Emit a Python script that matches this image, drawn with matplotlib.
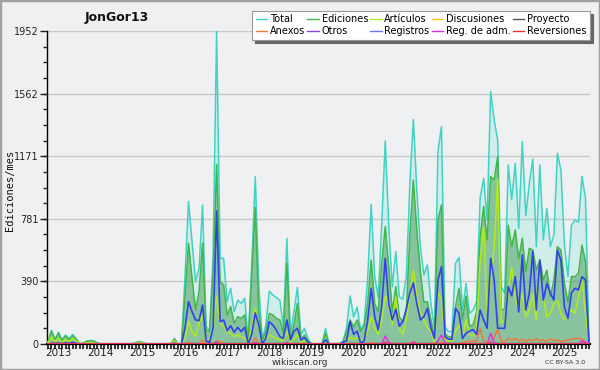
import numpy as np
import pandas as pd
import matplotlib
matplotlib.use("Agg")
import matplotlib.pyplot as plt
from matplotlib.lines import Line2D
from matplotlib.patches import Rectangle

# ---------------- data (monthly, starting Oct 2012) ----------------
start_month = "2012-10"

total = (
    [10, 85, 29]
    + [73, 25, 56, 29, 60, 35, 0, 5, 18, 22, 20, 8]
    + [0, 0, 0, 0, 0, 0, 0, 0, 0, 0, 10, 15]
    + [10, 0, 0, 0, 0, 0, 0, 0, 0, 35, 0, 0]
    + [420, 888, 638, 389, 472, 867, 108, 87, 550, 1952, 534, 534]
    + [264, 347, 202, 274, 254, 285, 15, 493, 1044, 368, 25, 118]
    + [330, 306, 290, 274, 108, 659, 56, 200, 353, 56, 98, 35]
    + [0, 0, 0, 0, 98, 0, 0, 0, 0, 20, 100, 300]
    + [170, 230, 87, 130, 410, 871, 420, 290, 750, 1266, 732, 358]
    + [576, 295, 280, 420, 1000, 1401, 950, 600, 430, 493, 254, 87]
    + [1200, 1355, 108, 77, 77, 503, 540, 212, 378, 191, 212, 264]
    + [908, 1033, 773, 1574, 1397, 1272, 358, 316, 1117, 900, 1127, 721]
    + [1262, 800, 1000, 1154, 607, 1117, 650, 846, 607, 680, 1189, 1085]
    + [620, 420, 740, 773, 760, 1044, 908, 0]
)

ediciones = (
    [10, 80, 25]
    + [68, 22, 50, 25, 50, 30, 0, 5, 16, 20, 18, 6]
    + [0, 0, 0, 0, 0, 0, 0, 0, 0, 0, 8, 13]
    + [8, 0, 0, 0, 0, 0, 0, 0, 0, 30, 0, 0]
    + [300, 628, 410, 212, 326, 628, 87, 77, 450, 1120, 389, 368]
    + [181, 233, 129, 170, 160, 181, 15, 430, 850, 202, 25, 77]
    + [191, 181, 160, 150, 67, 503, 25, 120, 254, 30, 56, 20]
    + [0, 0, 0, 0, 67, 0, 0, 0, 0, 10, 80, 150]
    + [108, 150, 80, 110, 254, 524, 250, 202, 503, 732, 480, 200]
    + [358, 170, 140, 200, 680, 1023, 700, 450, 260, 264, 150, 35]
    + [773, 867, 65, 45, 45, 233, 347, 150, 300, 110, 120, 200]
    + [669, 857, 649, 1044, 1023, 1168, 212, 220, 740, 607, 711, 530]
    + [660, 450, 596, 586, 461, 524, 399, 461, 295, 399, 607, 586]
    + [380, 260, 420, 420, 440, 617, 513, 0]
)

articulos = (
    [5, 45, 15]
    + [35, 10, 30, 15, 35, 20, 0, 0, 8, 10, 8, 0]
    + [0, 0, 0, 0, 0, 0, 0, 0, 0, 0, 5, 8]
    + [5, 0, 0, 0, 0, 0, 0, 0, 0, 20, 0, 0]
    + [30, 139, 77, 46, 129, 181, 25, 25, 100, 300, 129, 108]
    + [77, 67, 46, 56, 46, 35, 10, 98, 222, 98, 15, 25]
    + [56, 46, 35, 25, 20, 80, 10, 30, 60, 10, 20, 5]
    + [0, 0, 0, 0, 15, 0, 0, 0, 0, 0, 20, 40]
    + [30, 40, 20, 30, 80, 170, 100, 60, 150, 300, 250, 120]
    + [295, 100, 60, 150, 300, 461, 300, 200, 150, 100, 80, 10]
    + [316, 280, 20, 20, 20, 80, 120, 40, 150, 60, 50, 100]
    + [520, 732, 200, 400, 600, 1030, 129, 150, 316, 480, 295, 212]
    + [316, 170, 212, 316, 150, 482, 295, 170, 191, 254, 274, 191]
    + [150, 191, 212, 191, 295, 399, 191, 0]
)

registros = (
    [0, 5, 4]
    + [5, 3, 6, 4, 10, 5, 0, 0, 2, 2, 2, 0]
    + [0, 0, 0, 0, 0, 0, 0, 0, 0, 0, 2, 2]
    + [0, 0, 0, 0, 0, 0, 0, 0, 0, 5, 0, 0]
    + [100, 264, 202, 150, 146, 243, 21, 10, 100, 830, 139, 150]
    + [83, 114, 73, 104, 77, 104, 0, 63, 194, 118, 0, 35]
    + [139, 118, 87, 46, 35, 150, 25, 80, 98, 25, 40, 10]
    + [0, 0, 0, 0, 25, 0, 0, 0, 0, 10, 20, 140]
    + [60, 80, 5, 20, 150, 347, 170, 87, 240, 534, 250, 150]
    + [218, 110, 140, 220, 320, 380, 250, 150, 170, 222, 100, 35]
    + [399, 482, 46, 30, 30, 222, 191, 35, 67, 80, 90, 60]
    + [212, 150, 98, 534, 399, 98, 98, 98, 358, 300, 420, 200]
    + [555, 212, 316, 576, 212, 524, 274, 378, 316, 274, 586, 524]
    + [230, 160, 320, 347, 337, 420, 399, 0]
)

anexos = (
    [0, 0, 0]
    + [0] * 12 + [0] * 12 + [0] * 12
    + [0, 10, 0, 0, 0, 25, 0, 0, 0, 20, 15, 0]
    + [0, 0, 0, 0, 0, 0, 0, 0, 40, 0, 0, 0]
    + [0, 0, 0, 0, 0, 10, 0, 0, 0, 0, 0, 0]
    + [0] * 12
    + [0, 0, 0, 0, 0, 10, 0, 0, 0, 15, 0, 0]
    + [0, 0, 0, 0, 0, 15, 0, 0, 0, 0, 0, 0]
    + [0, 10, 0, 0, 0, 0, 0, 10, 15, 15, 20, 15]
    + [98, 20, 10, 15, 40, 91, 20, 10, 35, 25, 35, 20]
    + [30, 15, 30, 20, 35, 20, 25, 15, 35, 20, 25, 15]
    + [20, 25, 30, 35, 35, 30, 15, 0]
)

reg_adm = (
    [0, 0, 0]
    + [0] * 12 + [0] * 12 + [0] * 12 + [0] * 12
    + [0, 0, 0, 0, 0, 0, 0, 0, 10, 0, 0, 0]
    + [0, 0, 0, 0, 0, 10, 0, 0, 0, 0, 0, 0]
    + [0] * 12
    + [0, 0, 0, 0, 0, 0, 0, 0, 0, 50, 10, 0]
    + [0, 0, 0, 0, 0, 10, 0, 0, 0, 0, 0, 0]
    + [20, 56, 10, 0, 0, 0, 0, 0, 0, 0, 0, 0]
    + [0, 0, 0, 67, 10, 0, 0, 0, 0, 0, 0, 0]
    + [0] * 12
    + [0, 0, 0, 0, 0, 20, 10, 0]
)

otros = (
    [0, 0, 0]
    + [0] * 12 + [0] * 12 + [0] * 12
    + [0, 0, 0, 0, 0, 0, 0, 0, 0, 10, 0, 0]
    + [0] * 12 + [0] * 12 + [0] * 12
    + [0, 0, 0, 0, 0, 0, 0, 0, 0, 8, 0, 0]
    + [0, 0, 0, 0, 0, 10, 0, 0, 0, 0, 0, 0]
    + [0] * 12
    + [0, 0, 0, 8, 0, 0, 0, 0, 0, 0, 0, 0]
    + [0] * 12
    + [0, 0, 0, 0, 0, 0, 0, 0]
)

discusiones = (
    [0, 8, 0]
    + [6, 0, 5, 0, 6, 0, 0, 0, 0, 0, 0, 0]
    + [0] * 12 + [0] * 12
    + [0, 5, 0, 0, 0, 5, 0, 0, 0, 10, 0, 0]
    + [0] * 12 + [0] * 12 + [0] * 12 + [0] * 12 + [0] * 12 + [0] * 12
    + [0, 0, 0, 5, 0, 0, 0, 0, 0, 0, 0, 0]
    + [0] * 12
    + [0, 0, 0, 0, 0, 0, 0, 0]
)

proyecto = [0] * 155
reversiones = [0] * 155

# ---------------- figure ----------------
n = len(total)
x = np.arange(n)
months = pd.period_range(start_month, periods=n, freq="M")

BG = "#eff0f1"
fig = plt.figure(figsize=(6.0, 3.7), dpi=100)
fig.patch.set_facecolor(BG)
ax = fig.add_axes([47 / 600, 1 - 344 / 370, 543 / 600, 313 / 370])
ax.set_facecolor(BG)

c_total = "#3fd3c6"
c_edic = "#45b54a"
c_art = "#b2ea1c"
c_disc = "#ffc814"
c_proy = "#555555"
c_anex = "#f07840"
c_otros = "#9040e8"
c_reg = "#3340ee"
c_regadm = "#e030e8"
c_rev = "#f03030"

ax.fill_between(x, total, color="#40e0cc", alpha=0.17, lw=0, zorder=1)
ax.fill_between(x, ediciones, color="#3f9a55", alpha=0.5, lw=0, zorder=1.1)

lw = 1.1
ax.plot(x, total, color=c_total, lw=lw, zorder=3)
ax.plot(x, ediciones, color=c_edic, lw=lw, zorder=3.1)
ax.plot(x, articulos, color=c_art, lw=lw, zorder=3.2)
ax.plot(x, discusiones, color=c_disc, lw=lw, zorder=3.25)
ax.plot(x, proyecto, color=c_proy, lw=lw, zorder=3.25)
ax.plot(x, registros, color=c_reg, lw=1.2, zorder=3.3)
ax.plot(x, anexos, color=c_anex, lw=lw, zorder=3.4)
ax.plot(x, otros, color=c_otros, lw=lw, zorder=3.4)
ax.plot(x, reg_adm, color=c_regadm, lw=lw, zorder=3.5)
ax.plot(x, reversiones, color=c_rev, lw=lw, zorder=3.5)

ax.set_xlim(-0.28, n - 1 + 0.28)
ax.set_ylim(0, 1952)

yt = [0, 390, 781, 1171, 1562, 1952]
ax.set_yticks(yt)
ax.set_yticklabels([str(v) for v in yt])
ax.set_yticks(np.arange(0, 1952, 1952 / 20), minor=True)
ax.yaxis.grid(True, which="major", color="#c8c8c8", lw=1.0, zorder=0)
ax.set_axisbelow(True)

jan_idx = [i for i, m in enumerate(months) if m.month == 1]
ax.set_xticks(jan_idx)
ax.set_xticklabels([str(months[i].year) for i in jan_idx])
ax.set_xticks(x, minor=True)

ax.tick_params(axis="y", which="major", length=5, width=1, direction="out",
               labelsize=7, colors="#222222", pad=1)
ax.tick_params(axis="y", which="minor", length=3, width=1, direction="out", color="#222222")
ax.tick_params(axis="x", which="major", length=3.5, width=1.2, direction="out",
               labelsize=7.5, colors="#222222", pad=-0.5)
ax.tick_params(axis="x", which="minor", length=3.5, width=1.2, direction="out", color="#111111")

for s in ["top", "right"]:
    ax.spines[s].set_visible(False)
ax.spines["left"].set_color("#000000")
ax.spines["left"].set_linewidth(1.0)
ax.spines["bottom"].set_color("#000000")
ax.spines["bottom"].set_linewidth(1.6)

# legend
labels = ["Total", "Anexos", "Ediciones", "Otros", "Artículos", "Registros",
          "Discusiones", "Reg. de adm.", "Proyecto", "Reversiones"]
colors = [c_total, c_anex, c_edic, c_otros, c_art, "#6a78ff",
          c_disc, c_regadm, c_proy, c_rev]
handles = [Line2D([0], [0], color=c, lw=1.0) for c in colors]
leg = fig.legend(handles, labels, ncol=5, loc="upper right",
                 bbox_to_anchor=(590 / 600, 1 - 11 / 370),
                 fontsize=7, frameon=True, fancybox=False,
                 handlelength=1.15, handletextpad=0.3, columnspacing=0.25,
                 labelspacing=0.2, borderpad=0.35, borderaxespad=0.0,
                 shadow={"color": "#666666", "alpha": 1.0})
leg.get_frame().set_facecolor("white")
leg.get_frame().set_edgecolor("#999999")
leg.get_frame().set_linewidth(0.8)
leg.set_zorder(10)

fig.text(117 / 600, 1 - 17 / 370, "JonGor13", ha="center", va="center",
         fontsize=9, fontweight="bold", color="#111111")
fig.text(10 / 600, 1 - 190 / 370, "Ediciones/mes", rotation=90, ha="center",
         va="center", fontsize=7.5, family="DejaVu Sans Mono", color="#111111")
fig.text(300 / 600, 1 - 362.5 / 370, "wikiscan.org", ha="center", va="center",
         fontsize=6.5, color="#333333")
fig.text(565 / 600, 1 - 363 / 370, "CC BY-SA 3.0", ha="center", va="center",
         fontsize=4.5, color="#333333")

fig.add_artist(Rectangle((0, 0), 1, 1, transform=fig.transFigure, fill=False,
                         edgecolor="#a0a0a0", lw=2.5))

fig.savefig("out.png", dpi=100, facecolor=fig.get_facecolor())
